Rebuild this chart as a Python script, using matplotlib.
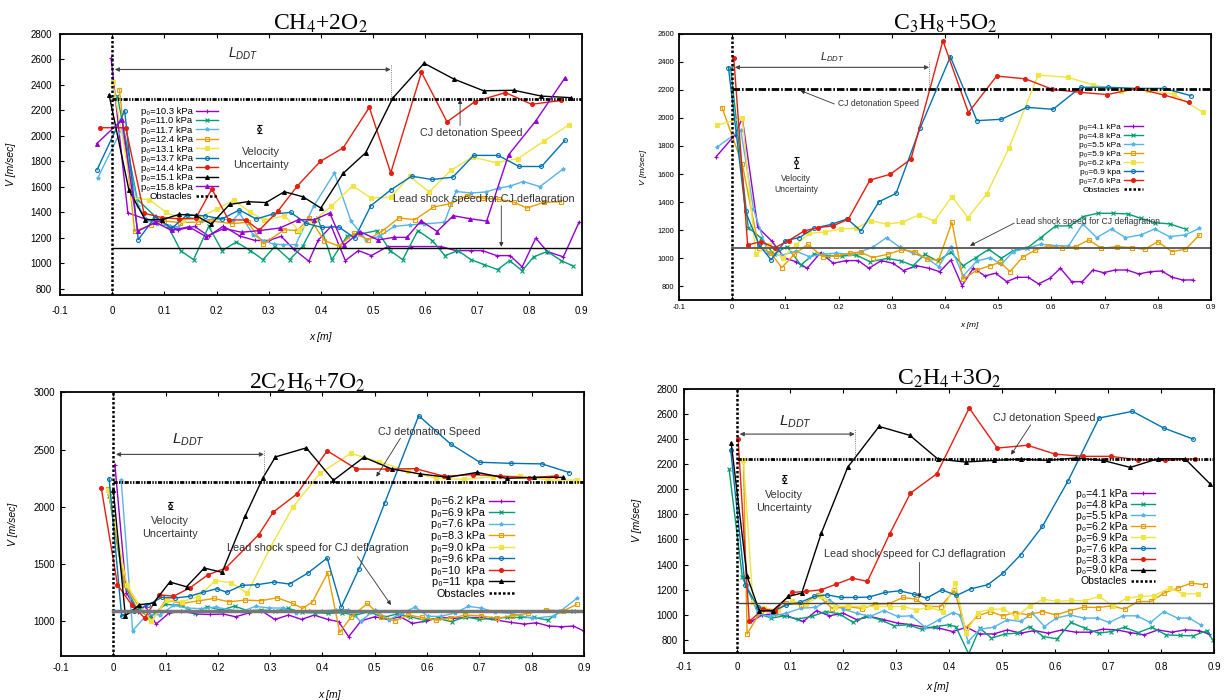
import numpy as np
import matplotlib.pyplot as plt

plt.rcParams['font.family'] = ['Liberation Sans', 'DejaVu Sans']
plt.rcParams['mathtext.fontset'] = 'custom'
plt.rcParams['mathtext.rm'] = 'Liberation Sans'
plt.rcParams['mathtext.it'] = 'Liberation Sans:italic'

# ---------------- CH4 + 2O2 ----------------
ch4_labels = ['10.3 kPa', '11.0 kPa', '11.7 kPa', '12.4 kPa', '13.1 kPa',
              '13.7 kPa', '14.4 kPa', '15.1 kPa', '15.8 kPa']
ch4_103_x = [-0.002, 0.03, 0.064, 0.094, 0.127, 0.158, 0.185, 0.213, 0.245, 0.274, 0.300, 0.324, 0.348, 0.377, 0.395, 0.42, 0.447, 0.472, 0.497, 0.528, 0.573, 0.630, 0.659, 0.688, 0.710, 0.737, 0.763, 0.786, 0.812, 0.834, 0.865, 0.895]
ch4_103_v = [2606, 1395, 1345, 1322, 1262, 1288, 1212, 1290, 1212, 1178, 1178, 1210, 1110, 1015, 1180, 1290, 1020, 1098, 1059, 1130, 1130, 1130, 1098, 1098, 1098, 1059, 1059, 970, 1196, 1091, 1049, 1320]
ch4_110_x = [0.01, 0.048, 0.081, 0.107, 0.131, 0.156, 0.185, 0.211, 0.238, 0.265, 0.289, 0.312, 0.34, 0.365, 0.394, 0.421, 0.45, 0.476, 0.508, 0.533, 0.557, 0.586, 0.614, 0.638, 0.663, 0.688, 0.713, 0.739, 0.762, 0.786, 0.808, 0.834, 0.861, 0.883]
ch4_110_v = [2310, 1500, 1372, 1290, 1098, 1027, 1288, 1098, 1166, 1098, 1027, 1131, 1027, 1131, 1354, 1027, 1210, 1229, 1255, 1098, 1027, 1255, 1176, 1059, 1098, 1027, 988, 949, 1020, 940, 1049, 1091, 1020, 978]
ch4_117_x = [-0.028, 0.018, 0.05, 0.066, 0.086, 0.11, 0.127, 0.145, 0.17, 0.202, 0.231, 0.244, 0.27, 0.292, 0.31, 0.327, 0.352, 0.386, 0.426, 0.458, 0.487, 0.512, 0.541, 0.57, 0.598, 0.637, 0.659, 0.688, 0.716, 0.742, 0.762, 0.788, 0.82, 0.865]
ch4_117_v = [1665, 2050, 1450, 1340, 1307, 1290, 1285, 1362, 1330, 1354, 1333, 1393, 1224, 1172, 1150, 1145, 1145, 1445, 1707, 1327, 1184, 1210, 1288, 1300, 1307, 1320, 1562, 1550, 1558, 1589, 1603, 1640, 1600, 1740]
ch4_124_x = [0.014, 0.043, 0.075, 0.10, 0.13, 0.164, 0.19, 0.23, 0.26, 0.29, 0.33, 0.355, 0.378, 0.407, 0.435, 0.464, 0.49, 0.519, 0.55, 0.58, 0.616, 0.648, 0.681, 0.711, 0.742, 0.77, 0.795, 0.827, 0.861]
ch4_124_v = [2360, 1250, 1302, 1330, 1318, 1322, 1330, 1310, 1320, 1150, 1262, 1255, 1355, 1176, 1133, 1236, 1184, 1255, 1355, 1340, 1440, 1466, 1530, 1510, 1500, 1478, 1432, 1476, 1482]
ch4_131_x = [0.001, 0.04, 0.071, 0.103, 0.135, 0.165, 0.2, 0.233, 0.265, 0.292, 0.33, 0.358, 0.388, 0.42, 0.461, 0.496, 0.534, 0.57, 0.608, 0.649, 0.691, 0.737, 0.778, 0.827, 0.876]
ch4_131_v = [2420, 1510, 1497, 1400, 1342, 1350, 1425, 1492, 1400, 1336, 1372, 1256, 1341, 1445, 1607, 1511, 1516, 1680, 1558, 1727, 1832, 1787, 1820, 1955, 2086]
ch4_137_x = [-0.029, 0.024, 0.05, 0.083, 0.114, 0.143, 0.177, 0.21, 0.244, 0.276, 0.308, 0.342, 0.372, 0.402, 0.434, 0.465, 0.496, 0.534, 0.574, 0.613, 0.653, 0.693, 0.74, 0.78, 0.823, 0.868]
ch4_137_v = [1733, 2195, 1184, 1364, 1272, 1377, 1372, 1346, 1417, 1346, 1385, 1398, 1312, 1280, 1285, 1196, 1451, 1574, 1682, 1656, 1674, 1845, 1845, 1758, 1758, 1963]
ch4_144_x = [-0.023, 0.026, 0.061, 0.096, 0.128, 0.16, 0.191, 0.223, 0.256, 0.282, 0.318, 0.355, 0.399, 0.443, 0.493, 0.534, 0.593, 0.642, 0.695, 0.754, 0.804, 0.861]
ch4_144_v = [2062, 2062, 1392, 1356, 1348, 1350, 1582, 1340, 1338, 1258, 1410, 1605, 1798, 1905, 2222, 1708, 2497, 2108, 2266, 2338, 2246, 2276]
ch4_151_x = [-0.006, 0.032, 0.063, 0.095, 0.128, 0.16, 0.19, 0.225, 0.26, 0.295, 0.33, 0.366, 0.40, 0.443, 0.486, 0.538, 0.598, 0.655, 0.712, 0.77, 0.823, 0.88]
ch4_151_v = [2322, 1574, 1342, 1340, 1382, 1374, 1306, 1460, 1482, 1475, 1560, 1520, 1432, 1705, 1866, 2295, 2568, 2444, 2352, 2356, 2310, 2298]
ch4_158_x = [-0.03, 0.019, 0.049, 0.083, 0.114, 0.147, 0.18, 0.214, 0.248, 0.282, 0.321, 0.357, 0.387, 0.417, 0.444, 0.475, 0.51, 0.54, 0.565, 0.592, 0.623, 0.654, 0.686, 0.718, 0.76, 0.812, 0.868]
ch4_158_v = [1936, 2125, 1250, 1320, 1256, 1285, 1208, 1272, 1242, 1255, 1275, 1340, 1340, 1393, 1140, 1246, 1182, 1202, 1202, 1332, 1248, 1372, 1348, 1330, 1850, 2115, 2453]

# ---------------- C3H8 + 5O2 ----------------
c3h8_labels = ['4.1 kPa', '4.8 kPa', '5.5 kPa', '5.9 kPa', '6.2 kPa', '6.9 kpa', '7.6 kPa']
c3h8_41_x = [-0.03, 0.005, 0.019, 0.048, 0.074, 0.099, 0.119, 0.141, 0.166, 0.19, 0.214, 0.237, 0.257, 0.28, 0.302, 0.322, 0.346, 0.37, 0.39, 0.411, 0.432, 0.453, 0.475, 0.495, 0.516, 0.536, 0.556, 0.576, 0.597, 0.617, 0.638, 0.658, 0.678, 0.698, 0.72, 0.742, 0.764, 0.786, 0.807, 0.827, 0.847, 0.866]
c3h8_41_v = [1724, 1878, 1997, 1221, 1123, 1000, 976, 928, 1040, 964, 983, 983, 928, 983, 964, 912, 947, 928, 904, 987, 804, 928, 874, 893, 833, 864, 864, 817, 857, 928, 833, 833, 916, 897, 916, 916, 888, 904, 909, 864, 845, 845]
c3h8_48_x = [-0.003, 0.03, 0.055, 0.078, 0.103, 0.129, 0.154, 0.18, 0.207, 0.233, 0.259, 0.292, 0.318, 0.34, 0.362, 0.386, 0.411, 0.434, 0.458, 0.482, 0.506, 0.528, 0.554, 0.58, 0.608, 0.635, 0.659, 0.687, 0.716, 0.744, 0.768, 0.795, 0.823, 0.853]
c3h8_48_v = [2353, 1218, 1142, 1028, 1083, 952, 1030, 1016, 1016, 1023, 975, 999, 980, 947, 1028, 980, 1042, 947, 1004, 1063, 999, 1054, 1071, 1147, 1230, 1230, 1296, 1320, 1320, 1315, 1284, 1253, 1244, 1206]
c3h8_55_x = [-0.029, 0.016, 0.04, 0.067, 0.092, 0.12, 0.145, 0.17, 0.196, 0.22, 0.242, 0.264, 0.29, 0.315, 0.34, 0.366, 0.388, 0.411, 0.434, 0.46, 0.485, 0.506, 0.528, 0.554, 0.58, 0.608, 0.632, 0.659, 0.685, 0.713, 0.739, 0.768, 0.794, 0.822, 0.852, 0.878]
c3h8_55_v = [1790, 1914, 1350, 1035, 1020, 1050, 1011, 1030, 1035, 1030, 1047, 1078, 1147, 1078, 1035, 999, 940, 1078, 874, 980, 1004, 956, 1047, 1071, 1099, 1090, 1087, 1244, 1147, 1208, 1147, 1166, 1208, 1154, 1166, 1213]
c3h8_59_x = [-0.019, 0.019, 0.05, 0.072, 0.093, 0.117, 0.142, 0.17, 0.196, 0.222, 0.242, 0.264, 0.292, 0.318, 0.344, 0.366, 0.388, 0.413, 0.434, 0.46, 0.485, 0.504, 0.522, 0.546, 0.57, 0.594, 0.62, 0.646, 0.67, 0.694, 0.724, 0.752, 0.775, 0.8, 0.826, 0.852, 0.878]
c3h8_59_v = [2072, 1669, 1076, 1040, 933, 1028, 1099, 1011, 1016, 1035, 1042, 1004, 1028, 1059, 1047, 992, 987, 1256, 850, 916, 947, 971, 904, 1007, 1059, 1087, 1071, 1083, 1130, 1071, 1083, 1075, 1063, 1118, 1047, 1063, 1165]
c3h8_62_x = [-0.029, 0.019, 0.044, 0.069, 0.095, 0.119, 0.145, 0.174, 0.204, 0.233, 0.26, 0.29, 0.319, 0.351, 0.38, 0.413, 0.443, 0.478, 0.52, 0.575, 0.631, 0.679, 0.731, 0.782, 0.83, 0.884]
c3h8_62_v = [1947, 1997, 1030, 1094, 1000, 1094, 1177, 1187, 1208, 1213, 1268, 1242, 1256, 1308, 1265, 1439, 1289, 1455, 1783, 2305, 2289, 2234, 2194, 2199, 2168, 2042]
c3h8_69_x = [-0.007, 0.025, 0.05, 0.073, 0.1, 0.126, 0.154, 0.187, 0.216, 0.242, 0.276, 0.308, 0.353, 0.41, 0.46, 0.506, 0.554, 0.603, 0.655, 0.706, 0.76, 0.812, 0.862]
c3h8_69_v = [2358, 1333, 1099, 988, 1125, 1147, 1213, 1242, 1280, 1194, 1403, 1462, 1925, 2436, 1980, 1990, 2075, 2061, 2218, 2218, 2210, 2210, 2158]
c3h8_76_x = [0.003, 0.029, 0.054, 0.08, 0.106, 0.135, 0.161, 0.189, 0.218, 0.259, 0.297, 0.336, 0.396, 0.444, 0.497, 0.551, 0.602, 0.654, 0.705, 0.76, 0.812, 0.858]
c3h8_76_v = [2424, 1094, 1118, 1075, 1125, 1194, 1218, 1230, 1277, 1557, 1598, 1706, 2550, 2038, 2298, 2278, 2203, 2182, 2166, 2210, 2163, 2111]

# ---------------- 2C2H6 + 7O2 ----------------
c2h6_labels = ['6.2 kPa', '6.9 kPa', '7.6 kPa', '8.3 kPa', '9.0 kPa', '9.6 kPa', '10  kPa', '11  kpa']
c2h6_62_x = [0.003, 0.025, 0.047, 0.061, 0.082, 0.106, 0.13, 0.159, 0.185, 0.21, 0.234, 0.26, 0.283, 0.309, 0.335, 0.36, 0.384, 0.41, 0.431, 0.45, 0.474, 0.5, 0.525, 0.549, 0.572, 0.598, 0.624, 0.65, 0.677, 0.703, 0.733, 0.76, 0.786, 0.809, 0.833, 0.857, 0.88, 0.9]
c2h6_62_v = [2370, 1250, 1080, 1135, 976, 1070, 1090, 1064, 1060, 1064, 1040, 1075, 1093, 1017, 1055, 1017, 1055, 1017, 997, 866, 1005, 1040, 1017, 1040, 982, 1002, 1034, 1026, 1034, 1034, 1011, 991, 976, 988, 959, 953, 959, 915]
c2h6_69_x = [-0.008, 0.02, 0.045, 0.07, 0.099, 0.129, 0.157, 0.18, 0.206, 0.232, 0.257, 0.283, 0.309, 0.335, 0.36, 0.386, 0.41, 0.437, 0.463, 0.489, 0.516, 0.542, 0.568, 0.594, 0.62, 0.647, 0.673, 0.7, 0.726, 0.752, 0.778, 0.804, 0.831, 0.857, 0.88]
c2h6_69_v = [2096, 1330, 1110, 1034, 1148, 1142, 1075, 1128, 1099, 1133, 1093, 1099, 1090, 1113, 1078, 1075, 1070, 1075, 1055, 1084, 1034, 1064, 1040, 1011, 1026, 997, 1040, 1017, 1026, 1034, 1034, 1034, 1011, 1093, 1090]
c2h6_76_x = [0.015, 0.037, 0.064, 0.09, 0.115, 0.14, 0.167, 0.196, 0.221, 0.246, 0.272, 0.297, 0.325, 0.349, 0.374, 0.4, 0.425, 0.449, 0.473, 0.5, 0.527, 0.553, 0.577, 0.602, 0.626, 0.653, 0.679, 0.704, 0.729, 0.76, 0.801, 0.843, 0.886]
c2h6_76_v = [2238, 918, 1058, 1058, 1140, 1117, 1111, 1125, 1102, 1088, 1131, 1117, 1116, 1073, 1093, 1088, 1102, 1102, 1000, 1102, 1014, 1073, 1125, 1044, 1044, 1073, 1131, 1116, 1081, 1070, 1026, 1046, 1200]
c2h6_83_x = [-0.01, 0.022, 0.05, 0.073, 0.10, 0.132, 0.162, 0.192, 0.222, 0.252, 0.282, 0.313, 0.343, 0.362, 0.381, 0.41, 0.433, 0.455, 0.486, 0.512, 0.538, 0.564, 0.591, 0.617, 0.643, 0.673, 0.703, 0.733, 0.763, 0.793, 0.827, 0.86, 0.886]
c2h6_83_v = [2154, 1317, 1120, 1002, 1186, 1157, 1178, 1200, 1171, 1186, 1180, 1206, 1157, 1113, 1171, 1425, 903, 1040, 1157, 1040, 1005, 1055, 1034, 1011, 1026, 1055, 1049, 1026, 1049, 1070, 1099, 1090, 1148]
c2h6_90_x = [-0.01, 0.026, 0.05, 0.073, 0.102, 0.132, 0.162, 0.195, 0.226, 0.256, 0.301, 0.343, 0.395, 0.454, 0.508, 0.564, 0.617, 0.67, 0.726, 0.778, 0.831, 0.886]
c2h6_90_v = [2152, 1320, 1140, 1002, 1186, 1171, 1215, 1355, 1338, 1244, 1652, 1996, 2293, 2468, 2395, 2313, 2250, 2241, 2264, 2270, 2235, 2235]
c2h6_96_x = [-0.008, 0.016, 0.04, 0.067, 0.093, 0.118, 0.146, 0.171, 0.198, 0.217, 0.246, 0.275, 0.308, 0.337, 0.372, 0.409, 0.436, 0.47, 0.519, 0.584, 0.645, 0.701, 0.76, 0.82, 0.872]
c2h6_96_v = [2247, 1044, 1090, 1145, 1210, 1204, 1219, 1254, 1285, 1254, 1315, 1320, 1344, 1326, 1422, 1553, 1125, 1460, 2034, 2797, 2550, 2390, 2381, 2376, 2300]
c2h6_10_x = [-0.023, 0.008, 0.035, 0.06, 0.088, 0.115, 0.146, 0.181, 0.215, 0.278, 0.306, 0.351, 0.409, 0.465, 0.524, 0.578, 0.633, 0.687, 0.74, 0.795, 0.846]
c2h6_10_v = [2165, 1320, 1145, 1029, 1233, 1219, 1291, 1407, 1466, 1757, 1955, 2113, 2491, 2331, 2331, 2334, 2268, 2282, 2270, 2255, 2270]
c2h6_11_x = [0.0, 0.023, 0.05, 0.077, 0.108, 0.14, 0.174, 0.208, 0.252, 0.286, 0.31, 0.369, 0.421, 0.479, 0.533, 0.587, 0.64, 0.696, 0.752, 0.804, 0.86]
c2h6_11_v = [2150, 1049, 1145, 1160, 1344, 1302, 1466, 1428, 1918, 2253, 2437, 2516, 2233, 2434, 2331, 2288, 2259, 2302, 2250, 2258, 2258]

# ---------------- C2H4 + 3O2 ----------------
c2h4_labels = ['4.1 kPa', '4.8 kPa', '5.5 kPa', '6.2 kPa', '6.9 kPa', '7.6 kPa', '8.3 kPa', '9.0 kPa']
c2h4_41_x = [0.026, 0.048, 0.072, 0.097, 0.125, 0.15, 0.174, 0.2, 0.226, 0.251, 0.277, 0.303, 0.329, 0.355, 0.381, 0.407, 0.433, 0.458, 0.484, 0.51, 0.535, 0.561, 0.587, 0.613, 0.639, 0.665, 0.69, 0.716, 0.742, 0.768, 0.794, 0.82, 0.845, 0.871, 0.89]
c2h4_41_v = [948, 1000, 1010, 988, 948, 1035, 993, 1014, 962, 988, 962, 935, 922, 902, 895, 868, 902, 849, 849, 881, 855, 876, 855, 881, 863, 863, 887, 881, 860, 842, 881, 863, 881, 876, 849]
c2h4_48_x = [-0.015, 0.01, 0.04, 0.065, 0.089, 0.115, 0.141, 0.167, 0.193, 0.219, 0.244, 0.27, 0.296, 0.322, 0.348, 0.374, 0.4, 0.413, 0.437, 0.458, 0.48, 0.506, 0.528, 0.552, 0.578, 0.604, 0.63, 0.656, 0.682, 0.706, 0.731, 0.757, 0.783, 0.809, 0.835, 0.861, 0.887, 0.897]
c2h4_48_v = [2160, 1300, 1010, 975, 993, 967, 988, 1027, 1009, 940, 993, 962, 914, 922, 887, 908, 922, 905, 690, 895, 816, 849, 855, 908, 828, 810, 940, 895, 855, 868, 902, 860, 902, 842, 837, 834, 876, 802]
c2h4_55_x = [0.018, 0.04, 0.063, 0.093, 0.121, 0.148, 0.174, 0.2, 0.226, 0.251, 0.277, 0.303, 0.329, 0.355, 0.381, 0.407, 0.42, 0.436, 0.458, 0.484, 0.51, 0.535, 0.557, 0.58, 0.602, 0.628, 0.654, 0.68, 0.702, 0.728, 0.754, 0.78, 0.805, 0.831, 0.853, 0.875]
c2h4_55_v = [1240, 1010, 988, 1014, 1054, 1060, 1120, 1046, 1014, 988, 1035, 988, 993, 902, 962, 1019, 1000, 788, 887, 902, 962, 948, 1014, 908, 975, 1000, 975, 975, 940, 993, 993, 940, 1027, 975, 975, 920]
c2h4_62_x = [0.012, 0.019, 0.045, 0.07, 0.093, 0.121, 0.152, 0.18, 0.21, 0.236, 0.261, 0.287, 0.313, 0.337, 0.358, 0.384, 0.41, 0.431, 0.454, 0.478, 0.501, 0.524, 0.55, 0.576, 0.602, 0.628, 0.654, 0.681, 0.707, 0.731, 0.757, 0.781, 0.805, 0.831, 0.857, 0.882]
c2h4_62_v = [2234, 850, 1030, 1020, 1094, 1080, 1160, 1050, 1067, 1050, 1086, 1090, 1139, 1126, 1067, 1067, 1195, 895, 992, 1027, 992, 1019, 1000, 1027, 1000, 1035, 1062, 1059, 1072, 1046, 1107, 1107, 1173, 1213, 1253, 1240]
c2h4_69_x = [0.012, 0.03, 0.051, 0.077, 0.103, 0.13, 0.159, 0.185, 0.21, 0.237, 0.263, 0.289, 0.313, 0.338, 0.363, 0.388, 0.412, 0.432, 0.454, 0.48, 0.502, 0.527, 0.552, 0.578, 0.604, 0.63, 0.656, 0.683, 0.709, 0.735, 0.76, 0.786, 0.816, 0.842, 0.87]
c2h4_69_v = [2234, 1100, 1054, 1040, 1107, 1090, 1152, 1067, 1072, 1067, 1067, 1067, 1067, 1041, 1060, 1027, 1258, 855, 1019, 1046, 1046, 987, 1072, 1125, 1107, 1115, 1112, 1147, 1072, 1133, 1147, 1152, 1213, 1168, 1168]
c2h4_76_x = [-0.012, 0.015, 0.04, 0.067, 0.093, 0.119, 0.145, 0.17, 0.196, 0.223, 0.249, 0.279, 0.307, 0.333, 0.358, 0.386, 0.414, 0.441, 0.473, 0.502, 0.535, 0.576, 0.624, 0.683, 0.746, 0.805, 0.861]
c2h4_76_v = [2313, 1240, 1060, 1027, 1080, 1099, 1147, 1160, 1139, 1139, 1142, 1179, 1192, 1166, 1134, 1200, 1155, 1208, 1240, 1333, 1478, 1704, 2062, 2566, 2619, 2486, 2398]
c2h4_83_x = [0.002, 0.023, 0.049, 0.072, 0.103, 0.13, 0.159, 0.187, 0.217, 0.246, 0.288, 0.327, 0.377, 0.438, 0.491, 0.548, 0.6, 0.653, 0.705, 0.756, 0.808, 0.864]
c2h4_83_v = [2399, 948, 1046, 1035, 1179, 1187, 1200, 1245, 1293, 1267, 1645, 1968, 2123, 2645, 2327, 2349, 2279, 2261, 2261, 2234, 2229, 2242]
c2h4_90_x = [-0.011, 0.019, 0.042, 0.067, 0.097, 0.122, 0.159, 0.209, 0.268, 0.326, 0.379, 0.431, 0.484, 0.535, 0.587, 0.639, 0.69, 0.742, 0.794, 0.845, 0.893]
c2h4_90_v = [2366, 1306, 1033, 1033, 1147, 1174, 1651, 2176, 2499, 2428, 2239, 2216, 2229, 2239, 2229, 2248, 2229, 2173, 2242, 2242, 2040]

# reference speeds, DDT lengths and velocity uncertainty (x, V, error)
cj_speed = [2290, 2206, 2220, 2242]
lead_shock = [1120, 1070, 1090, 1094]
l_ddt = [0.534, 0.37, 0.288, 0.222]
unc_x = [0.282, 0.12, 0.108, 0.089]
unc_v = [2054, 1683, 2011, 2080]
unc_err = [30, 40, 29, 33]

titles = [r'CH$_4$+2O$_2$', r'C$_3$H$_8$+5O$_2$', r'2C$_2$H$_6$+7O$_2$', r'C$_2$H$_4$+3O$_2$']
x_ticks = [-0.1, 0, 0.1, 0.2, 0.3, 0.4, 0.5, 0.6, 0.7, 0.8, 0.9]
x_ticklabels = ['-0.1', '0', '0.1', '0.2', '0.3', '0.4', '0.5', '0.6', '0.7', '0.8', '0.9']

# line styles (gnuplot-like)
PURPLE, GREEN, LBLUE, ORANGE = '#9400D3', '#009E73', '#56B4E9', '#E69F00'
YELLOW, BLUE, RED, BLACK = '#F0E442', '#0072B2', '#E51E10', '#000000'
sty = [dict(color=PURPLE, marker='+'), dict(color=GREEN, marker='x'),
       dict(color=LBLUE, marker='*'), dict(color=ORANGE, marker='s', mfc='none'),
       dict(color=YELLOW, marker='s'), dict(color=BLUE, marker='o', mfc='none'),
       dict(color=RED, marker='o'), dict(color=BLACK, marker='^'),
       dict(color=PURPLE, marker='^')]

panels = [
    dict(labels=ch4_labels,
         data=[(ch4_103_x, ch4_103_v), (ch4_110_x, ch4_110_v), (ch4_117_x, ch4_117_v),
               (ch4_124_x, ch4_124_v), (ch4_131_x, ch4_131_v), (ch4_137_x, ch4_137_v),
               (ch4_144_x, ch4_144_v), (ch4_151_x, ch4_151_v), (ch4_158_x, ch4_158_v)]),
    dict(labels=c3h8_labels,
         data=[(c3h8_41_x, c3h8_41_v), (c3h8_48_x, c3h8_48_v), (c3h8_55_x, c3h8_55_v),
               (c3h8_59_x, c3h8_59_v), (c3h8_62_x, c3h8_62_v), (c3h8_69_x, c3h8_69_v),
               (c3h8_76_x, c3h8_76_v)]),
    dict(labels=c2h6_labels,
         data=[(c2h6_62_x, c2h6_62_v), (c2h6_69_x, c2h6_69_v), (c2h6_76_x, c2h6_76_v),
               (c2h6_83_x, c2h6_83_v), (c2h6_90_x, c2h6_90_v), (c2h6_96_x, c2h6_96_v),
               (c2h6_10_x, c2h6_10_v), (c2h6_11_x, c2h6_11_v)]),
    dict(labels=c2h4_labels,
         data=[(c2h4_41_x, c2h4_41_v), (c2h4_48_x, c2h4_48_v), (c2h4_55_x, c2h4_55_v),
               (c2h4_62_x, c2h4_62_v), (c2h4_69_x, c2h4_69_v), (c2h4_76_x, c2h4_76_v),
               (c2h4_83_x, c2h4_83_v), (c2h4_90_x, c2h4_90_v)]),
]

# layout per panel
layout = [
    dict(rect=[0.049, 0.5786, 0.4258, 0.3733], ylim=(750, 2800), yticks=range(800, 2801, 200),
         tick_fs=7, xpad=8, ypad=6, leg_fs=6.8, leg_anchor=(0.303, 0.72), leg_sp=0.05,
         ann_fs=7.8, ldd_fs=10, title_x=0.5, ylab=(-0.085, 0.5), xlab=(0.5, -0.14),
         cj_dash=(1.5, 0.5, 0.5, 0.5, 0.5, 0.5), lead_col='k', lead_lw=1.0,
         arrow_y=2519, ldd_txt=(0.252, 2645), unc_txt=(0.286, 1820),
         cj_txt=(0.688, 2023), cj_from=(0.667, 2080), cj_to=(0.667, 2285), cj_ha='center',
         lead_txt=(0.713, 1503), lead_from=(0.746, 1450), lead_to=(0.746, 1128), lead_ha='center'),
    dict(rect=[0.5543, 0.571, 0.4343, 0.3809], ylim=(700, 2600), yticks=range(800, 2601, 200),
         tick_fs=5.5, xpad=3, ypad=3.5, leg_fs=6, leg_anchor=(0.872, 0.665), leg_sp=0.14,
         ann_fs=6.2, ldd_fs=8, title_x=0.5, ylab=(-0.061, 0.5), xlab=(0.546, -0.08),
         cj_dash=(2.7, 0.7, 0.6, 0.7), lead_col='#555555', lead_lw=1.3,
         arrow_y=2360, ldd_txt=(0.189, 2431), unc_txt=(0.12, 1527),
         cj_txt=(0.198, 2099), cj_from=(0.192, 2099), cj_to=(0.128, 2195), cj_ha='left',
         lead_txt=(0.533, 1260), lead_from=(0.53, 1250), lead_to=(0.447, 1089), lead_ha='left'),
    dict(rect=[0.0498, 0.0633, 0.4269, 0.376], ylim=(700, 3000), yticks=range(1000, 3001, 500),
         tick_fs=7, xpad=5.5, ypad=4.3, leg_fs=7.8, leg_anchor=(0.866, 0.605), leg_sp=0.14,
         ann_fs=7.8, ldd_fs=11, title_x=0.47, ylab=(-0.083, 0.5), xlab=(0.513, -0.13),
         cj_dash=(1.5, 0.5, 0.5, 0.5, 0.5, 0.5), lead_col='#777777', lead_lw=2.5,
         arrow_y=2459, ldd_txt=(0.144, 2585), unc_txt=(0.108, 1817),
         cj_txt=(0.604, 2657), cj_from=(0.549, 2600), cj_to=(0.503, 2264), cj_ha='center',
         lead_txt=(0.392, 1637), lead_from=(0.467, 1565), lead_to=(0.531, 1143), lead_ha='center'),
    dict(rect=[0.5584, 0.0676, 0.4327, 0.3773], ylim=(700, 2800), yticks=range(800, 2801, 200),
         tick_fs=7, xpad=7, ypad=4.3, leg_fs=7.5, leg_anchor=(0.889, 0.62), leg_sp=0.09,
         ann_fs=7.8, ldd_fs=11, title_x=0.5, ylab=(-0.08, 0.5), xlab=(0.479, -0.11),
         cj_dash=(1.5, 0.5, 0.5, 0.5, 0.5, 0.5), lead_col='#444444', lead_lw=1.0,
         arrow_y=2438, ldd_txt=(0.111, 2539), unc_txt=(0.089, 1905),
         cj_txt=(0.58, 2566), cj_from=(0.554, 2512), cj_to=(0.517, 2274), cj_ha='center',
         lead_txt=(0.335, 1483), lead_from=(0.344, 1418), lead_to=(0.344, 1134), lead_ha='center'),
]

fig = plt.figure(figsize=(12.25, 7), dpi=100)
txt_col = '#333333'

for i, (p, L) in enumerate(zip(panels, layout)):
    ax = fig.add_axes(L['rect'])
    handles = []
    for (xs, vs), lab, st in zip(p['data'], p['labels'], sty):
        ln, = ax.plot(xs, vs, lw=1.0, ms=2.8, mew=0.8, label='p\u2080=' + lab, **st)
        handles.append(ln)

    # obstacles, CJ detonation speed, lead shock speed
    obs = ax.axvline(0, color='k', lw=1.8, ls=(0, (1.0, 0.8)), label='Obstacles')
    handles.append(obs)
    ax.plot([0, 0.9], [cj_speed[i], cj_speed[i]], color='k', lw=2.0, dashes=L['cj_dash'])
    ax.plot([0, 0.9], [lead_shock[i], lead_shock[i]], color=L['lead_col'], lw=L['lead_lw'])

    # L_DDT
    ay = L['arrow_y']
    ax.annotate('', xy=(0.005, ay), xytext=(l_ddt[i], ay),
                arrowprops=dict(arrowstyle='<|-|>', color='#444444', lw=0.8,
                                mutation_scale=6, shrinkA=0, shrinkB=0))
    ax.plot([l_ddt[i], l_ddt[i]], [cj_speed[i], ay + 40], color='#555555', lw=0.6, ls=':')
    ax.text(*L['ldd_txt'], r'$L_{DDT}$', fontsize=L['ldd_fs'], ha='center', va='center',
            color='#222222')

    # velocity uncertainty
    ax.errorbar([unc_x[i]], [unc_v[i]], yerr=[unc_err[i]], fmt='o', ms=2.5, mfc='white',
                mec='k', ecolor='k', elinewidth=0.8, capsize=1.8, capthick=0.8, mew=0.8)
    ax.text(*L['unc_txt'], 'Velocity\nUncertainty', fontsize=L['ann_fs'], ha='center',
            va='center', color=txt_col, linespacing=1.35)

    # CJ and lead-shock annotations
    ax.annotate('', xy=L['cj_to'], xytext=L['cj_from'],
                arrowprops=dict(arrowstyle='-|>', color='#333333', lw=0.6,
                                mutation_scale=6, shrinkA=0, shrinkB=0))
    ax.text(*L['cj_txt'], 'CJ detonation Speed', fontsize=L['ann_fs'], ha=L['cj_ha'],
            va='center', color=txt_col)
    ax.annotate('', xy=L['lead_to'], xytext=L['lead_from'],
                arrowprops=dict(arrowstyle='-|>', color='#333333', lw=0.6,
                                mutation_scale=6, shrinkA=0, shrinkB=0))
    ax.text(*L['lead_txt'], 'Lead shock speed for CJ deflagration', fontsize=L['ann_fs'],
            ha=L['lead_ha'], va='center', color=txt_col)

    ax.set_xlim(-0.1, 0.9)
    ax.set_ylim(*L['ylim'])
    ax.set_xticks(x_ticks)
    ax.set_xticklabels(x_ticklabels)
    ax.set_yticks(list(L['yticks']))
    ax.tick_params(axis='x', direction='in', labelsize=L['tick_fs'], pad=L['xpad'],
                   length=3, top=True)
    ax.tick_params(axis='y', direction='in', labelsize=L['tick_fs'], pad=L['ypad'],
                   length=3)
    for s in ax.spines.values():
        s.set_linewidth(1.3)

    ax.set_ylabel('V [m/sec]', fontstyle='italic', fontsize=L['tick_fs'] + 0.5)
    ax.yaxis.set_label_coords(*L['ylab'])
    ax.set_xlabel('x [m]', fontstyle='italic', fontsize=L['tick_fs'] + 0.5)
    ax.xaxis.set_label_coords(*L['xlab'])

    t = ax.set_title(titles[i], family=['Liberation Serif', 'DejaVu Serif'], fontsize=17,
                     x=L['title_x'], pad=3)
    t.set_math_fontfamily('stix')

    ax.legend(handles=handles, loc='upper right', bbox_to_anchor=L['leg_anchor'],
              frameon=False, markerfirst=False, fontsize=L['leg_fs'],
              labelspacing=L['leg_sp'], handlelength=2.3, handletextpad=0.4,
              borderpad=0, borderaxespad=0, numpoints=1)

fig.savefig('out.png', dpi=100)
